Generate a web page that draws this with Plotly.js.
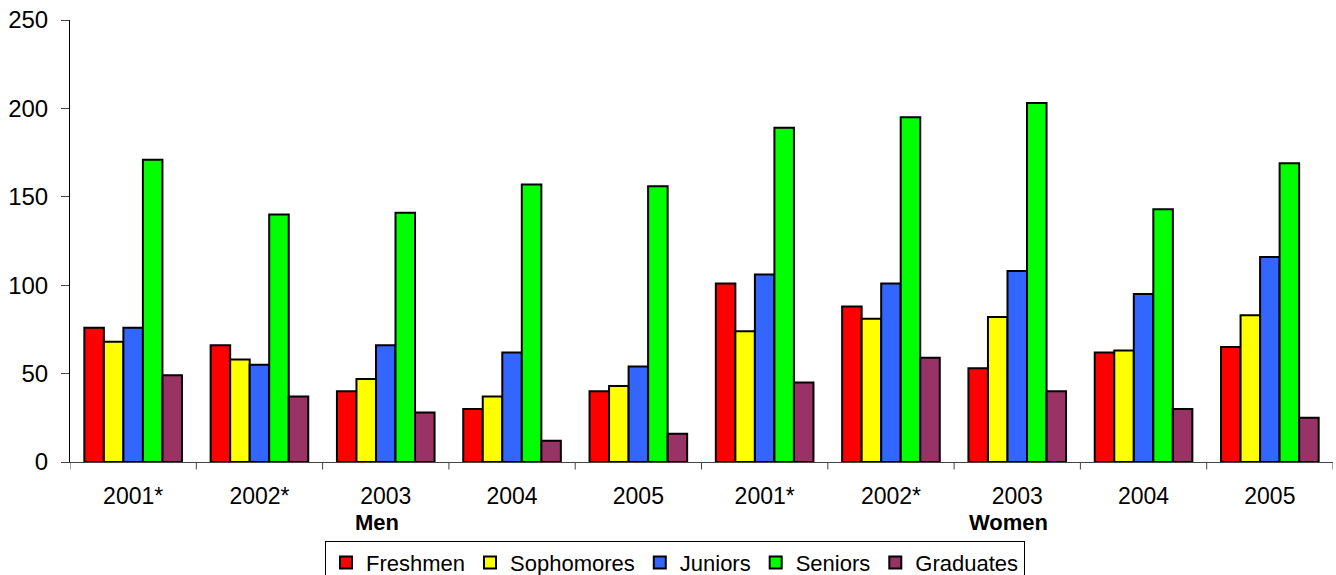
<!DOCTYPE html>
<html>
<head>
<meta charset="utf-8">
<script src="https://cdn.plot.ly/plotly-3.0.1.min.js"></script>
<style>html,body{margin:0;padding:0;background:#fff;}#chart{width:1336px;height:575px;}</style>
</head>
<body>
<div id="chart"></div>
<script>
var groupLabels = ["2001*","2002*","2003","2004","2005","2001*","2002*","2003","2004","2005"];
var seriesNames = ["Freshmen","Sophomores","Juniors","Seniors","Graduates"];
var freshmen   = [76, 66, 40, 30, 40, 101, 88, 53, 62, 65];
var sophomores = [68, 58, 47, 37, 43, 74, 81, 82, 63, 83];
var juniors    = [76, 55, 66, 62, 54, 106, 101, 108, 95, 116];
var seniors    = [171, 140, 141, 157, 156, 189, 195, 203, 143, 169];
var graduates  = [49, 37, 28, 12, 16, 45, 59, 40, 30, 25];
var colors = ["#FF0000","#FFFF00","#3366FF","#00FF00","#993366"];
var sectionLabels = ["Men","Women"];
var sectionPos = [2, 7];

var xs = groupLabels.map(function(_, i){ return i; });
var values = [freshmen, sophomores, juniors, seniors, graduates];
var traces = values.map(function(v, k){
  return {type:"bar", name:seriesNames[k], x:xs, y:v,
    marker:{color:colors[k], line:{color:"#000", width:2}}, hoverinfo:"y"};
});

var shapes = [];
for (var b = 0; b <= groupLabels.length; b++) {
  shapes.push({type:"line", xref:"x", yref:"paper", x0:b-0.5, x1:b-0.5, y0:0, y1:-0.017,
    line:{color:"#444", width:1}});
}
var annotations = sectionLabels.map(function(t, i){
  return {text:"<b>"+t+"</b>", xref:"x", yref:"paper", x:sectionPos[i], y:-0.105, xshift:-9,
    yanchor:"top", showarrow:false, font:{family:"Liberation Sans, Arial, sans-serif", size:22, color:"#000"}};
});

var layout = {
  width:1336, height:575,
  margin:{l:70, r:3, t:20, b:113, autoexpand:false},
  paper_bgcolor:"#fff", plot_bgcolor:"#fff",
  font:{family:"Liberation Sans, Arial, sans-serif", size:23, color:"#000"},
  barmode:"group", bargap:0.227, bargroupgap:0,
  showlegend:true,
  legend:{orientation:"h", x:0.479, xanchor:"center", y:-0.178, yanchor:"top",
    bordercolor:"#000", borderwidth:1, font:{size:22}, itemwidth:30, tracegroupgap:0,
    traceorder:"normal", itemclick:false},
  xaxis:{range:[-0.5, groupLabels.length-0.5], tickvals:xs, ticktext:groupLabels,
    ticks:"outside", ticklen:13, tickcolor:"rgba(0,0,0,0)", showline:true, linecolor:"#444", linewidth:1,
    showgrid:false, zeroline:false, fixedrange:true, automargin:false},
  yaxis:{range:[0,250], dtick:50, ticks:"outside", ticklen:8, tickcolor:"#444",
    showline:true, linecolor:"#000", linewidth:1, showgrid:false, zeroline:false,
    ticklabelstandoff:8, fixedrange:true, tickfont:{size:24}, automargin:false},
  shapes:shapes,
  annotations:annotations
};
Plotly.newPlot("chart", traces, layout, {displayModeBar:false, staticPlot:true});
</script>
</body>
</html>
